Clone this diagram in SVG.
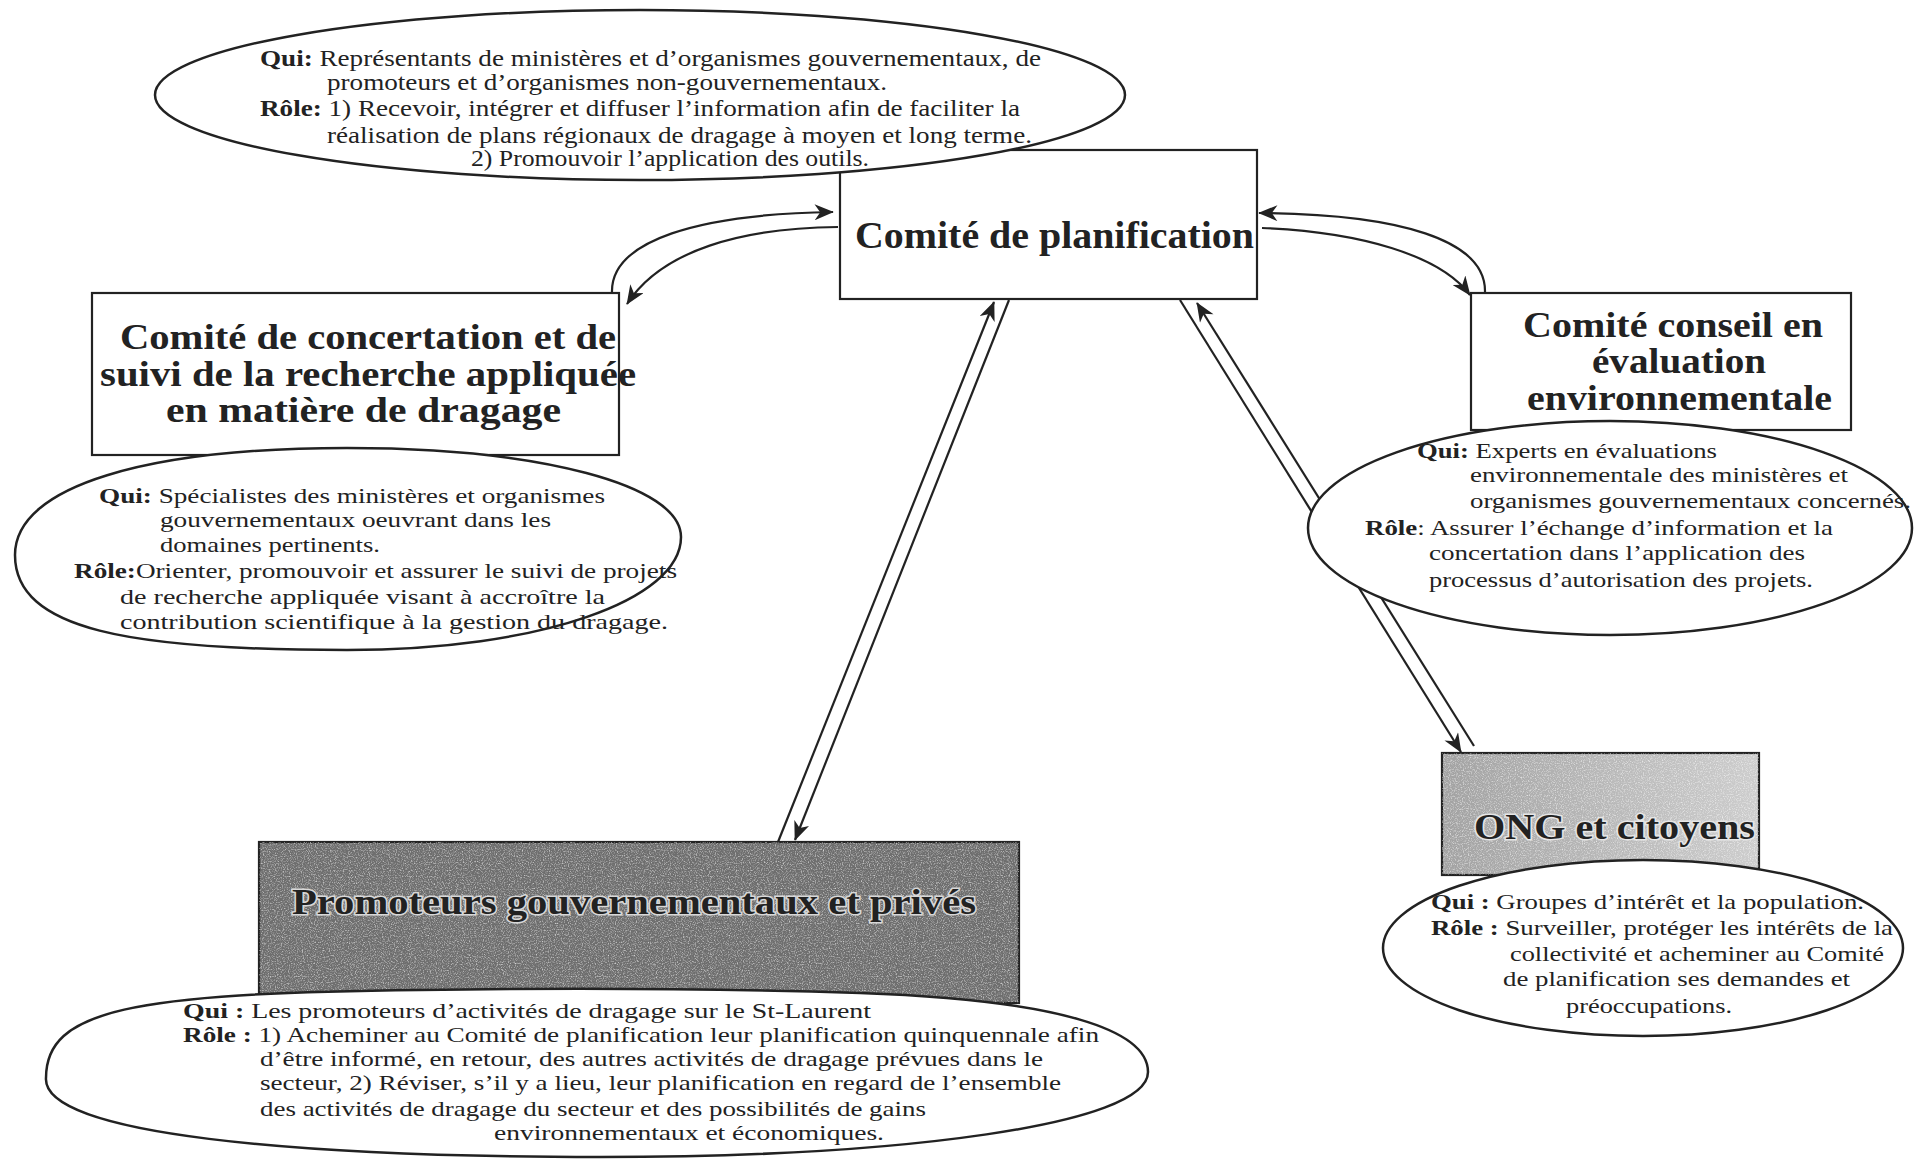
<svg xmlns="http://www.w3.org/2000/svg" width="1914" height="1159" viewBox="0 0 1914 1159">
<style>
.box{fill:#fff;stroke:#222;stroke-width:2.2}
.ell{fill:#fff;stroke:#222;stroke-width:2.5}
.ttl{font-family:"Liberation Serif",serif;font-weight:bold;fill:#222}
.txt{font-family:"Liberation Serif",serif;fill:#222}
.b{font-weight:bold}
.con{fill:none;stroke:#222;stroke-width:2.2}
</style>
<defs>
<marker id="ah" viewBox="0 0 12 10" refX="11.5" refY="5" markerWidth="20" markerHeight="16" markerUnits="userSpaceOnUse" orient="auto">
<path d="M0,0 L12,5 L0,10 L3.5,5 z" fill="#222"/>
</marker>
<filter id="noise" x="0" y="0" width="100%" height="100%">
<feTurbulence type="fractalNoise" baseFrequency="0.85" numOctaves="2" seed="3" result="n"/>
<feColorMatrix in="n" type="matrix" values="0 0 0 0 1  0 0 0 0 1  0 0 0 0 1  0 0 0 1.6 -0.75" result="w"/>
<feComposite in="w" in2="SourceGraphic" operator="in"/>
</filter>
<linearGradient id="ongg" x1="0" y1="0" x2="1" y2="0">
<stop offset="0" stop-color="#a2a2a2"/>
<stop offset="1" stop-color="#cdcdcd"/>
</linearGradient>
</defs>

<g id="node-planification">
<rect class="box" x="840" y="150" width="417" height="149"/>
<text class="ttl" x="855" y="248" font-size="38" textLength="399" lengthAdjust="spacingAndGlyphs">Comité de planification</text>
</g>

<g id="node-concertation">
<rect class="box" x="92" y="293" width="527" height="162"/>
<text class="ttl" font-size="35">
<tspan x="120" y="349" textLength="496" lengthAdjust="spacingAndGlyphs">Comité de concertation et de</tspan>
<tspan x="100" y="386" textLength="536" lengthAdjust="spacingAndGlyphs">suivi de la recherche appliquée</tspan>
<tspan x="166" y="422" textLength="395" lengthAdjust="spacingAndGlyphs">en matière de dragage</tspan>
</text>
</g>

<g id="node-conseil">
<rect class="box" x="1471" y="293" width="380" height="137"/>
<text class="ttl" font-size="35">
<tspan x="1523" y="337" textLength="300" lengthAdjust="spacingAndGlyphs">Comité conseil en</tspan>
<tspan x="1592" y="373" textLength="174" lengthAdjust="spacingAndGlyphs">évaluation</tspan>
<tspan x="1527" y="410" textLength="305" lengthAdjust="spacingAndGlyphs">environnementale</tspan>
</text>
</g>

<g id="node-ong">
<rect x="1442" y="753" width="317" height="122" fill="url(#ongg)" stroke="#222" stroke-width="2.2"/>
<rect x="1442" y="753" width="317" height="122" filter="url(#noise)" fill="#000"/>
<text class="ttl" x="1474" y="839" font-size="36" textLength="281" lengthAdjust="spacingAndGlyphs" stroke="#e6e6e6" stroke-width="3" paint-order="stroke">ONG et citoyens</text>
</g>

<g id="node-promoteurs">
<rect x="259" y="842" width="760" height="161" fill="#6e6e6e" stroke="#222" stroke-width="2.2"/>
<rect x="259" y="842" width="760" height="161" filter="url(#noise)" fill="#000"/>
<text class="ttl" x="292" y="914" font-size="36" textLength="684" lengthAdjust="spacingAndGlyphs" fill="#2a2a2a" stroke="#d8d8d8" stroke-width="3" paint-order="stroke">Promoteurs gouvernementaux et privés</text>
</g>

<g id="connectors">
<path class="con" d="M612,293 C610,240 700,214 833,212" marker-end="url(#ah)"/>
<path class="con" d="M838,227 C742,228 662,250 627,304" marker-end="url(#ah)"/>
<path class="con" d="M1485,292 C1486,240 1400,214 1259,213" marker-end="url(#ah)"/>
<path class="con" d="M1262,228 C1360,232 1440,255 1470,295" marker-end="url(#ah)"/>
<line class="con" x1="778" y1="842" x2="994" y2="302" marker-end="url(#ah)"/>
<line class="con" x1="1009" y1="300" x2="795" y2="840" marker-end="url(#ah)"/>
<line class="con" x1="1180" y1="300" x2="1461" y2="752" marker-end="url(#ah)"/>
<line class="con" x1="1474" y1="746" x2="1197" y2="303" marker-end="url(#ah)"/>
</g>

<g id="info-planification">
<ellipse class="ell" cx="640" cy="95" rx="485" ry="85"/>
<text class="txt" font-size="23">
<tspan x="260" y="66" textLength="781" lengthAdjust="spacingAndGlyphs"><tspan class="b">Qui:</tspan> Représentants de ministères et d’organismes gouvernementaux, de</tspan>
<tspan x="327" y="90" textLength="560" lengthAdjust="spacingAndGlyphs">promoteurs et d’organismes non-gouvernementaux.</tspan>
<tspan x="260" y="116" textLength="760" lengthAdjust="spacingAndGlyphs"><tspan class="b">Rôle:</tspan> 1) Recevoir, intégrer et diffuser l’information afin de faciliter la</tspan>
<tspan x="327" y="143" textLength="705" lengthAdjust="spacingAndGlyphs">réalisation de plans régionaux de dragage à moyen et long terme.</tspan>
<tspan x="471" y="166" textLength="398" lengthAdjust="spacingAndGlyphs">2) Promouvoir l’application des outils.</tspan>
</text>
</g>

<g id="info-concertation">
<path class="ell" d="M15,555 C15,485 150,448 347,448 C540,448 681,485 681,537 C681,600 540,650 347,650 C130,650 15,630 15,555 Z"/>
<text class="txt" font-size="21">
<tspan x="99" y="503" textLength="506" lengthAdjust="spacingAndGlyphs"><tspan class="b">Qui:</tspan> Spécialistes des ministères et organismes</tspan>
<tspan x="160" y="527" textLength="391" lengthAdjust="spacingAndGlyphs">gouvernementaux oeuvrant dans les</tspan>
<tspan x="160" y="552" textLength="220" lengthAdjust="spacingAndGlyphs">domaines pertinents.</tspan>
<tspan x="74" y="578" textLength="603" lengthAdjust="spacingAndGlyphs"><tspan class="b">Rôle:</tspan>Orienter, promouvoir et assurer le suivi de projets</tspan>
<tspan x="120" y="604" textLength="485" lengthAdjust="spacingAndGlyphs">de recherche appliquée visant à accroître la</tspan>
<tspan x="120" y="629" textLength="548" lengthAdjust="spacingAndGlyphs">contribution scientifique à la gestion du dragage.</tspan>
</text>
</g>

<g id="info-conseil">
<ellipse class="ell" cx="1610" cy="528" rx="302" ry="107"/>
<text class="txt" font-size="21">
<tspan x="1417" y="458" textLength="300" lengthAdjust="spacingAndGlyphs"><tspan class="b">Qui:</tspan> Experts en évaluations</tspan>
<tspan x="1470" y="482" textLength="378" lengthAdjust="spacingAndGlyphs">environnementale des ministères et</tspan>
<tspan x="1470" y="508" textLength="441" lengthAdjust="spacingAndGlyphs">organismes gouvernementaux concernés.</tspan>
<tspan x="1365" y="535" textLength="468" lengthAdjust="spacingAndGlyphs"><tspan class="b">Rôle</tspan>: Assurer l’échange d’information et la</tspan>
<tspan x="1429" y="560" textLength="376" lengthAdjust="spacingAndGlyphs">concertation dans l’application des</tspan>
<tspan x="1429" y="587" textLength="384" lengthAdjust="spacingAndGlyphs">processus d’autorisation des projets.</tspan>
</text>
</g>

<g id="info-ong">
<ellipse class="ell" cx="1643" cy="948" rx="260" ry="88"/>
<text class="txt" font-size="21">
<tspan x="1431" y="909" textLength="433" lengthAdjust="spacingAndGlyphs"><tspan class="b">Qui :</tspan> Groupes d’intérêt et la population.</tspan>
<tspan x="1431" y="935" textLength="462" lengthAdjust="spacingAndGlyphs"><tspan class="b">Rôle :</tspan> Surveiller, protéger les intérêts de la</tspan>
<tspan x="1510" y="961" textLength="374" lengthAdjust="spacingAndGlyphs">collectivité et acheminer au Comité</tspan>
<tspan x="1503" y="986" textLength="347" lengthAdjust="spacingAndGlyphs">de planification ses demandes et</tspan>
<tspan x="1566" y="1013" textLength="166" lengthAdjust="spacingAndGlyphs">préoccupations.</tspan>
</text>
</g>

<g id="info-promoteurs">
<path class="ell" d="M46,1078 C46,1010 130,993 420,990 C560,988 700,988 860,993 C1060,1000 1148,1030 1148,1072 C1148,1125 900,1157 600,1157 C300,1157 42,1135 46,1078 Z"/>
<text class="txt" font-size="22">
<tspan x="183" y="1018" textLength="688" lengthAdjust="spacingAndGlyphs"><tspan class="b">Qui :</tspan> Les promoteurs d’activités de dragage sur le St-Laurent</tspan>
<tspan x="183" y="1042" textLength="916" lengthAdjust="spacingAndGlyphs"><tspan class="b">Rôle :</tspan> 1) Acheminer au Comité de planification leur planification quinquennale afin</tspan>
<tspan x="260" y="1066" textLength="783" lengthAdjust="spacingAndGlyphs">d’être informé, en retour, des autres activités de dragage prévues dans le</tspan>
<tspan x="260" y="1090" textLength="801" lengthAdjust="spacingAndGlyphs">secteur, 2) Réviser, s’il y a lieu, leur planification en regard de l’ensemble</tspan>
<tspan x="260" y="1116" textLength="666" lengthAdjust="spacingAndGlyphs">des activités de dragage du secteur et des possibilités de gains</tspan>
<tspan x="494" y="1140" textLength="390" lengthAdjust="spacingAndGlyphs">environnementaux et économiques.</tspan>
</text>
</g>
</svg>
